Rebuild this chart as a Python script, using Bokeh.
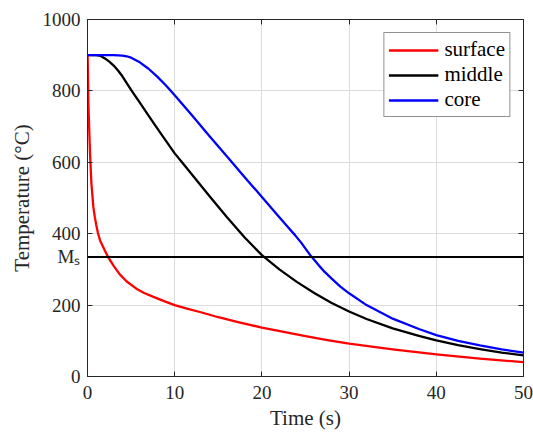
from bokeh.plotting import figure
from bokeh.models import (Range1d, LinearAxis, Span, FixedTicker, Legend, LegendItem,
                          CustomJSTickFormatter)
from bokeh.embed import file_html
from bokeh.resources import INLINE

# ---- data ----
surface_t = [0, 0.02, 0.1, 0.29, 0.45, 0.67, 0.85, 1.0, 1.2, 1.44, 2.0, 2.4, 3.0, 3.7, 4.5, 5.6, 6.5, 7.56,
             9.0, 10, 11.4, 13, 15, 17.5, 20, 22.5, 25, 27.5, 30, 35, 40, 45, 50]
surface_v = [900, 891, 765, 624, 540, 475, 445, 425, 402, 381, 352, 333, 310, 286, 266, 246, 234, 223,
             209, 200, 190, 180, 166, 151, 137, 125, 113, 102, 92, 76, 62, 50, 40]

middle_t = [0, 1, 1.5, 2, 2.5, 3, 3.5, 4, 5, 6, 7, 8, 9, 10, 11, 12, 14, 16, 18, 20, 22, 24, 26, 28, 30, 32,
            35, 38, 40, 42.5, 45, 47.5, 50]
middle_v = [900, 900, 898, 891, 882, 871, 857, 841, 803, 767, 731, 695, 660, 625, 595, 565, 505, 446, 390, 340,
            300, 265, 234, 206, 182, 161, 135, 114, 101, 88, 77, 67, 59]

core_t = [0, 2, 3, 4, 4.5, 5, 6, 7, 8, 9, 10, 12, 14, 16, 18, 20, 22, 23, 23.8, 24.5, 25, 25.6, 26.5, 27.2,
          28, 29, 30, 32, 35, 38, 40, 42.5, 45, 47.5, 50]
core_v = [900, 900, 900, 899, 897, 893, 880, 862, 840, 815, 788, 731, 673, 616, 559, 503, 446, 418, 396, 375,
          358, 338, 312, 293, 274, 252, 233, 200, 162, 133, 116, 100, 87, 76, 67]

ms_temp = 335
ms_label = "M\u209b"

x_ticks = [0, 10, 20, 30, 40, 50]
y_ticks = [0, 200, 400, 600, 800, 1000]

series_names = ["surface", "middle", "core"]
series_colors = ["#ff0000", "#000000", "#0000ff"]

SERIF = "Liberation Serif"
DARK = "#262626"

p = figure(width=533, height=433, x_range=Range1d(0, 50), y_range=Range1d(0, 1000),
           output_backend="svg", toolbar_location=None,
           min_border_left=87, min_border_right=10, min_border_top=19, min_border_bottom=57)
p.background_fill_color = "white"
p.border_fill_color = "white"
p.outline_line_color = DARK
p.outline_line_width = 1

for ax in (p.xaxis[0], p.yaxis[0]):
    ax.axis_line_color = DARK
    ax.major_tick_line_color = DARK
    ax.major_tick_in = 5
    ax.major_tick_out = 0
    ax.minor_tick_line_color = None
    ax.major_label_text_font = SERIF
    ax.major_label_text_font_size = "19px"
    ax.major_label_text_color = DARK
    ax.axis_label_text_font = SERIF
    ax.axis_label_text_font_size = "21px"
    ax.axis_label_text_font_style = "normal"
    ax.axis_label_text_color = DARK

p.xaxis.ticker = FixedTicker(ticks=x_ticks)
p.yaxis.ticker = FixedTicker(ticks=sorted(y_ticks + [ms_temp]))
p.yaxis.major_label_overrides = {ms_temp: ms_label}
p.xaxis.axis_label = "Time (s)"
p.yaxis.axis_label = "Temperature (°C)"
p.xaxis.major_label_standoff = 9
p.yaxis.major_label_standoff = 7
p.xaxis.axis_label_standoff = 4
p.yaxis.axis_label_standoff = 6

blank = CustomJSTickFormatter(code="return ''")
for loc, ticks in (("above", x_ticks), ("right", y_ticks)):
    ax = LinearAxis(ticker=FixedTicker(ticks=ticks), formatter=blank)
    ax.axis_line_color = DARK
    ax.major_tick_line_color = DARK
    ax.major_tick_in = 5
    ax.major_tick_out = 0
    ax.minor_tick_line_color = None
    ax.major_label_standoff = 0
    p.add_layout(ax, loc)

p.xgrid.ticker = FixedTicker(ticks=x_ticks)
p.ygrid.ticker = FixedTicker(ticks=y_ticks)
p.xgrid.grid_line_color = "#dcdcdc"
p.ygrid.grid_line_color = "#dcdcdc"

# Ms line
p.add_layout(Span(location=ms_temp, dimension="width", line_color="black", line_width=2))

items = []
for name, color, t, v in zip(series_names, series_colors,
                             [surface_t, middle_t, core_t], [surface_v, middle_v, core_v]):
    r = p.line(t, v, line_color=color, line_width=2.3, line_join="round")
    items.append(LegendItem(label=name, renderers=[r]))

legend = Legend(items=items, location="top_right", margin=13)
legend.border_line_color = DARK
legend.border_line_width = 1
legend.label_text_font = SERIF
legend.label_text_font_size = "21px"
legend.label_text_color = "black"
legend.glyph_width = 50
legend.glyph_height = 20
legend.label_height = 20
legend.label_standoff = 6
legend.spacing = -1
legend.padding = 4
legend.background_fill_alpha = 1
p.add_layout(legend)

open("out.html", "w").write(file_html(p, INLINE))
